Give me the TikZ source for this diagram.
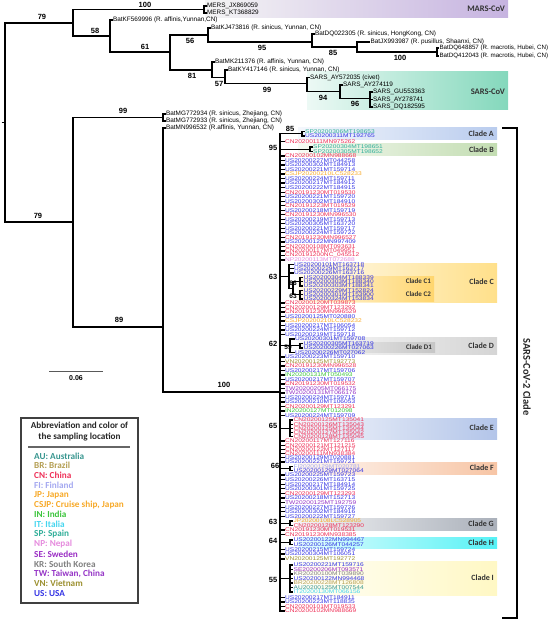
\documentclass[tikz,border=0pt]{standalone}
\usepackage{fontspec}
\usepackage{graphicx}
\setmainfont{Liberation Sans}
\newfontfamily\cali{Carlito}
\newcommand\sqz[1]{\scalebox{1}[0.82]{#1}}
\definecolor{cUS}{HTML}{3434E4}
\definecolor{cCN}{HTML}{EE3158}
\definecolor{cSP}{HTML}{2FAE98}
\definecolor{cJP}{HTML}{F7A928}
\definecolor{cNP}{HTML}{E58BDD}
\definecolor{cVN}{HTML}{9C9030}
\definecolor{cIN}{HTML}{3BC43B}
\definecolor{cTW}{HTML}{9535C6}
\definecolor{cFI}{HTML}{A4A8F0}
\definecolor{cSE}{HTML}{9A2DC4}
\definecolor{cKR}{HTML}{808080}
\definecolor{cBR}{HTML}{B49E52}
\definecolor{cAU}{HTML}{38968F}
\definecolor{cIT}{HTML}{45D5EE}
\definecolor{bMARS}{HTML}{C6B3E0}
\definecolor{bSARS}{HTML}{84D8BC}
\definecolor{bA}{HTML}{B9CCEE}
\definecolor{bB}{HTML}{C3DDB2}
\definecolor{bC}{HTML}{FFE08A}
\definecolor{bC1}{HTML}{FFD66E}
\definecolor{bD}{HTML}{D5D5D5}
\definecolor{bD1}{HTML}{C6C6C6}
\definecolor{bE}{HTML}{B3C5E9}
\definecolor{bF}{HTML}{F7C5A5}
\definecolor{bG}{HTML}{AAB0BA}
\definecolor{bH}{HTML}{55F2F6}
\definecolor{bI}{HTML}{FFF8C4}
\begin{document}
\begin{tikzpicture}[x=1pt,y=-1pt,
  br/.style={line width=1.25pt},
  leaf/.style={anchor=west,inner sep=0.4pt,font=\fontsize{6.6}{6.6}\selectfont},
  bat/.style={anchor=west,inner sep=0.4pt,font=\fontsize{6.4}{7}\selectfont},
  bs/.style={inner sep=0,font=\bfseries\fontsize{7.5}{8}\selectfont},
  bss/.style={inner sep=0,font=\bfseries\fontsize{6.5}{7}\selectfont},
  clab/.style={anchor=east,inner sep=0,text=black!80,font=\cali\bfseries\fontsize{8}{9}\selectfont},
  sclab/.style={anchor=east,inner sep=0,text=black!80,font=\cali\bfseries\fontsize{7}{8}\selectfont},
  legt/.style={anchor=west,inner sep=0,font=\cali\bfseries\fontsize{9.2}{10}\selectfont}]
\useasboundingbox (0,0) rectangle (552,620);
% ---------- bands ----------
\shade[left color=black!4,right color=bMARS] (205,0) rectangle (508,17.5);
\shade[left color=bSARS!15!white,right color=bSARS] (307,72) rectangle (508,110);
\foreach \c/\a/\b in {bA/128/140,bB/144/156,bC/263/302,bD/337/354,bE/418/439,bF/462/474,bG/518/530,bH/537/548,bI/561/595}
  {\shade[left color=\c!15!white,right color=\c] (298,\a) rectangle (497,\b);}
\shade[left color=bC1!20!white,right color=bC1] (300,276) rectangle (434,287.5);
\shade[left color=bC1!20!white,right color=bC1] (300,288.5) rectangle (434,301);
\shade[left color=bD1!20!white,right color=bD1] (300,342) rectangle (435,352);
\node[anchor=east,inner sep=0,text=black!80,font=\cali\bfseries\fontsize{8.5}{9}\selectfont] (mars) at (505,9) {MARS-CoV};
\node[anchor=east,inner sep=0,text=black!80,font=\cali\bfseries\fontsize{8.5}{9}\selectfont] (sars) at (505,92) {SARS-CoV};
\node[clab] (cA) at (494,134) {Clade A};
\node[clab] (cB) at (494,150) {Clade B};
\node[clab] (cC) at (494,282) {Clade C};
\node[sclab] (cC1) at (431,281.5) {Clade C1};
\node[sclab] (cC2) at (431,294.5) {Clade C2};
\node[clab] (cD) at (494,345.5) {Clade D};
\node[sclab] (cD1) at (432,347.5) {Clade D1};
\node[clab] (cE) at (494,428) {Clade E};
\node[clab] (cF) at (494,467.5) {Clade F};
\node[clab] (cG) at (494,524) {Clade G};
\node[clab] (cH) at (494,542.5) {Clade H};
\node[clab] (cI) at (494,578) {Clade I};
% ---------- upper tree ----------
\coordinate (R0) at (1.5,122.5);
\coordinate (R) at (5,122.5);
\coordinate (N1) at (73,23);
\coordinate (NB) at (73,222);
\coordinate (M) at (204,9.5);
\coordinate (N2) at (110,36);
\coordinate (N3) at (170,52);
\coordinate (N56) at (208,35);
\coordinate (N95) at (312,42);
\coordinate (N85) at (357,47);
\coordinate (N100) at (437,52);
\coordinate (N81) at (212,70);
\coordinate (N57) at (225,77.7);
\coordinate (N99) at (307,83.3);
\coordinate (N94) at (340,91.7);
\coordinate (N96) at (370,98.5);
\coordinate (MG) at (163,117.5);
\coordinate (NC) at (163,327);
\coordinate (SC) at (280,392);
\node[bat] (mers1) at (206.5,6) {MERS\_JX869059};
\node[bat] (mers2) at (206.5,13) {MERS\_KT368829};
\node[bat] (kf) at (112.5,20) {BatKF569996 (R. affinis,Yunnan,CN)};
\node[bat] (kj) at (210.5,28) {BatKJ473816 (R. sinicus, Yunnan, CN)};
\node[bat] (dq022) at (314.5,34) {BatDQ022305 (R. sinicus, HongKong, CN)};
\node[bat] (jx) at (370,42) {BatJX993987 (R. pusillus, Shaanxi, CN)};
\node[bat,font=\fontsize{6.2}{7}\selectfont] (dq648) at (439,48) {BatDQ648857 (R. macrotis, Hubei, CN)};
\node[bat,font=\fontsize{6.2}{7}\selectfont] (dq412) at (439,56) {BatDQ412043 (R. macrotis, Hubei, CN)};
\node[bat] (mk) at (214.5,62) {BatMK211376 (R. affinis, Yunnan, CN)};
\node[bat] (ky) at (227.5,70) {BatKY417146 (R. sinicus, Yunnan, CN)};
\node[bat] (ay572) at (309.5,77.7) {SARS\_AY572035 (civet)};
\node[bat] (ay274) at (342.5,85) {SARS\_AY274119};
\node[bat] (gu) at (372.5,92) {SARS\_GU553363};
\node[bat] (ay278) at (372.5,99.5) {SARS\_AY278741};
\node[bat] (dq182) at (372.5,107) {SARS\_DQ182595};
\node[bat] (mg34) at (165.5,114) {BatMG772934 (R. sinicus, Zhejiang, CN)};
\node[bat] (mg33) at (165.5,121) {BatMG772933 (R. sinicus, Zhejiang, CN)};
\node[bat] (mn) at (165.5,128) {BatMN996532 (R.affinis, Yunnan, CN)};
\draw[br] (R0) -- (R);
\draw[br] (R) |- (N1);
\draw[br] (R) |- (NB);
\draw[br] (N1) |- (M);
\draw[br] (M) |- (mers1.west);
\draw[br] (M) |- (mers2.west);
\draw[br] (N1) |- (N2);
\draw[br] (N2) |- (kf.west);
\draw[br] (N2) |- (N3);
\draw[br] (N3) |- (N56);
\draw[br] (N56) |- (kj.west);
\draw[br] (N56) |- (N95);
\draw[br] (N95) |- (dq022.west);
\draw[br] (N95) |- (N85);
\draw[br] (N85) |- (jx.west);
\draw[br] (N85) |- (N100);
\draw[br] (N100) |- (dq648.west);
\draw[br] (N100) |- (dq412.west);
\draw[br] (N3) |- (N81);
\draw[br] (N81) |- (mk.west);
\draw[br] (N81) |- (N57);
\draw[br] (N57) |- (ky.west);
\draw[br] (N57) |- (N99);
\draw[br] (N99) |- (ay572.west);
\draw[br] (N99) |- (N94);
\draw[br] (N94) |- (ay274.west);
\draw[br] (N94) |- (N96);
\draw[br] (N96) |- (gu.west);
\draw[br] (N96) |- (ay278.west);
\draw[br] (N96) |- (dq182.west);
\draw[br] (NB) |- (MG);
\draw[br] (MG) |- (mg34.west);
\draw[br] (MG) |- (mg33.west);
\draw[br] (NB) |- (NC);
\draw[br] (NC) |- (mn.west);
\draw[br] (NC) |- (SC);
% bootstrap values
\node[bs] (v1) at (145,5) {100};
\node[bs] (v2) at (42,17) {79};
\node[bs] (v3) at (95,31) {58};
\node[bs] (v4) at (145,47) {61};
\node[bs] (v5) at (190,41) {56};
\node[bs] (v6) at (262,48) {95};
\node[bs] (v7) at (333,52.5) {85};
\node[bs] (v8) at (400,57.5) {100};
\node[bs] (v9) at (192,76) {81};
\node[bs] (v10) at (219,83.5) {57};
\node[bs] (v11) at (267,89.5) {99};
\node[bs] (v12) at (323,97.5) {94};
\node[bs] (v13) at (355,103.5) {96};
\node[bs] (v14) at (123,111) {99};
\node[bs] (v15) at (38,216) {79};
\node[bs] (v16) at (119,320) {89};
\node[bs] (v17) at (224,385) {100};
% ---------- SARS-CoV-2 clade ----------
\coordinate (nA) at (302,133.75);
\coordinate (nB) at (310,149.25);
\coordinate (nC) at (289,276.3);
\coordinate (n66) at (293,288.15);
\coordinate (nC1) at (300,281.7);
\coordinate (nC2) at (300,294.6);
\coordinate (nD) at (290,345.75);
\coordinate (nD1) at (300,345.75);
\coordinate (nE) at (290,428.4);
\coordinate (nF) at (290,468.3);
\coordinate (nG) at (290,523.25);
\coordinate (nH) at (290,542.25);
\coordinate (nI) at (290,578.5);
\foreach \n in {nA,nB,nC,nD,nE,nF,nG,nH,nI} {\draw[br] (SC) |- (\n);}
\draw[br] (nC) |- (n66);
\draw[br] (n66) |- (nC1);
\draw[br] (n66) |- (nC2);
\draw[br] (nD) |- (nD1);
\foreach \i/\y/\c/\t in {
 3/141.5/CN/CN20200111MN975262, 6/156/CN/CN20200102MN988668, 7/160.5/US/US20200227MT044258,
 8/165/US/US20200302MT184913, 9/169.6/US/US20200221MT159714, 10/174.1/JP/CSJP20200210LC528233,
 11/178.6/US/US20200224MT159711, 12/183.1/US/US20200217MT184912, 13/187.6/US/US20200222MT184915,
 14/192.2/CN/CN20191230MT019530, 15/196.7/US/US20200221MT159720, 16/201.2/US/US20200302MT184910,
 17/205.7/CN/CN20191223MT019529, 18/210.2/US/US20200218MT159719, 19/214.8/CN/CN20191230MN996530,
 20/219.3/US/US20200219MT159713, 21/223.8/US/US20200305MT163720, 22/228.3/US/US20200221MT159717,
 23/232.8/US/US20200224MT159722, 24/237.4/CN/CN20191230MN996527, 25/241.9/US/US20200122MN997409,
 26/246.4/CN/CN20200108MT093631, 27/250.9/CN/CN20200117MT049951, 28/255.4/CN/CN20191200NC\_045512,
 29/260/NP/NP20200113MT072688, 39/303/CN/CN20200120MT039873, 40/307.5/CN/CN20200129MT123292,
 41/312/CN/CN20191230MN996529, 42/316.5/US/US20200125MT020880, 43/321/JP/CSJP20200210LC528232,
 44/325.5/US/US20200217MT106054, 45/330/US/US20200224MT159712, 46/334.5/US/US20200219MT159718,
 51/357/US/US20200223MT159710, 52/361.5/VN/VN20200125MT192773, 53/366/CN/CN20191230MN996528,
 54/370.5/US/US20200217MT159706, 55/375/IN/IN20200131MT050493, 56/379.5/US/US20200217MT159707,
 57/384/CN/CN20191230MT019532, 58/388.5/TW/TW20200205MT066175, 59/393/TW/TW20200131MT066176,
 60/397.5/US/US20200224MT159715, 61/402/US/US20200210MT106053, 62/406.5/CN/CN20200129MT123291,
 63/411/IN/IN20200127MT012098, 64/415.5/US/US20200224MT159709, 70/441/CN/CN20200117MT127116,
 71/445.2/CN/CN20200121MT121215, 72/449.4/CN/CN20200122MT127117, 73/453.6/CN/CN20200111MN938384,
 74/457.8/US/US20200129MT020881, 75/462/US/US20200221MT159721, 78/475/US/US20200225MT159723,
 79/479.6/US/US20200226MT163715, 80/484.2/US/US20200217MT184914, 81/488.8/US/US20200301MT159725,
 82/493.4/CN/CN20200129MT123293, 83/498/US/US20200218MT152713, 84/502.6/TW/TW20200125MT192759,
 85/507.2/US/US20200227MT159726, 86/511.8/US/US20200302MT184916, 87/516.4/US/US20200222MT159727,
 90/530/CN/CN20191230MT019531, 91/534.5/CN/CN20191230MN938385, 94/549.5/US/US20200215MT159724,
 95/554/US/US20200304MT106051, 96/559/VN/VN20200125MT192772, 104/597.5/US/US20200217MT184911,
 105/602/US/US20200223MT118835, 106/606.5/CN/CN20200101MT019533, 107/611/CN/CN20200102MN988669}
 {\node[leaf,text=c\c] (l\i) at (284.5,\y) {\sqz{\t}}; \draw[br] (SC) |- (l\i.west);}
\foreach \i/\y/\c/\t/\p/\x in {
 1/131.5/SP/SP20200306MT198653/nA/304.5, 2/136/US/US20200311MT192765/nA/304.5,
 4/147/SP/SP20200304MT198651/nB/312.5, 5/151.5/SP/SP20200305MT198652/nB/312.5,
 30/264.5/US/US20200101MT163718/nC/293.5, 31/268.8/US/US20200229MT163717/nC/293.5,
 32/273.1/US/US20200226MT163716/nC/293.5,
 33/277.4/US/US20200304MT188339/nC1/303, 34/281.7/US/US20200303MT188340/nC1/303,
 35/286/US/US20200303MT188341/nC1/303,
 36/290.3/US/US20200229MT152824/nC2/303, 37/294.6/US/US20200301MT153900/nC2/303,
 38/298.9/US/US20200324MT153834/nC2/303,
 47/339/US/US20200301MT159708/nD/294.5, 50/352.5/US/US20200226MT027062/nD/294.5,
 48/343.5/US/US20200305MT163719/nD1/303, 49/348/US/US20200226MT027063/nD1/303,
 65/420/CN/CN20200125MT135041/nE/293, 66/424.2/CN/CN20200126MT135043/nE/293,
 67/428.4/CN/CN20200125MT135044/nE/293, 68/432.6/CN/CN20200127MT135042/nE/293,
 69/436.8/CN/CN20200128MT135045/nE/293,
 76/466.2/FI/FI20200129MT020781/nF/293, 77/470.4/US/US20200129MT027064/nF/293,
 88/521/JP/JP20200108LC528905/nG/293, 89/525.5/CN/CN20200128MT123290/nG/293,
 92/540/US/US20200122MN994467/nH/293, 93/544.5/US/US20200126MT044257/nH/293,
 97/565/US/US20200221MT159716/nI/293, 98/569.5/SE/SE20200206MT093571/nI/293,
 99/574/KR/KR20200100MT039890/nI/293, 100/578.5/US/US20200122MN994468/nI/293,
 101/583/BR/BR20200228MT126808/nI/293, 102/587.5/AU/AU20200125MT007544/nI/293,
 103/592/IT/IT20200130MT066156/nI/293}
 {\node[leaf,text=c\c] (l\i) at (\x,\y) {\sqz{\t}}; \draw[br] (\p) |- (l\i.west);}
\node[bs] (s1) at (290,129) {85};
\node[bs] (s2) at (273,148) {95};
\node[bs] (s3) at (273,277) {63};
\node[bss] (s4) at (293,283) {66};
\node[bss] (s5) at (293,296.5) {63};
\node[bs] (s6) at (273,344) {62};
\node[bss] (s7) at (288,347.5) {59};
\node[bs] (s8) at (273,426) {65};
\node[bs] (s9) at (275,466) {66};
\node[bs] (s10) at (273,522) {63};
\node[bs] (s11) at (273,541) {64};
\node[bs] (s12) at (273,580) {55};
% bracket
\coordinate (k1) at (502,128);
\coordinate (k2) at (517,128);
\coordinate (k3) at (517,618);
\coordinate (k4) at (502,618);
\draw[line width=1.2pt] (k1) -- (k2) -- (k3) -- (k4);
\node[rotate=-90,inner sep=0,text=black!85,font=\cali\bfseries\fontsize{10.5}{11}\selectfont] (sc2) at (527,377) {SARS-CoV-2 Clade};
% scale bar
\coordinate (sb1) at (49,371);
\coordinate (sb2) at (103,371);
\draw[line width=1pt,black!65] (sb1) -- (sb2);
\node[inner sep=0,font=\bfseries\fontsize{7}{8}\selectfont] (sbl) at (76,378.5) {0.06};
% legend
\node[draw=black!75,line width=1.3pt,minimum width=117pt,minimum height=185pt,inner sep=0] (leg) at (79.5,510.5) {};
\node[align=center,inner sep=0,text=black!85,font=\cali\bfseries\fontsize{9.2}{11}\selectfont] (legtitle) at (79.5,431.5) {Abbreviation and color of\\the sampling location};
\coordinate (ls1) at (28,447);
\coordinate (ls2) at (130,447);
\draw[line width=1.3pt,black!60] (ls1) -- (ls2);
\foreach \k/\c/\t in {0/AU/{AU: Australia},1/BR/{BR: Brazil},2/CN/{CN: China},3/FI/{FI: Finland},
  4/JP/{JP: Japan},5/JP/{CSJP: Cruise ship, Japan},6/IN/{IN: India},7/IT/{IT: Italia},
  8/SP/{SP: Spain},9/NP/{NP: Nepal},10/SE/{SE: Sweden},11/KR/{KR: South Korea},
  12/TW/{TW: Taiwan, China},13/VN/{VN: Vietnam},14/US/{US: USA}}
  {\node[legt,text=c\c] (lg\k) at (34,456+9.8*\k) {\t};}
\end{tikzpicture}
\end{document}
